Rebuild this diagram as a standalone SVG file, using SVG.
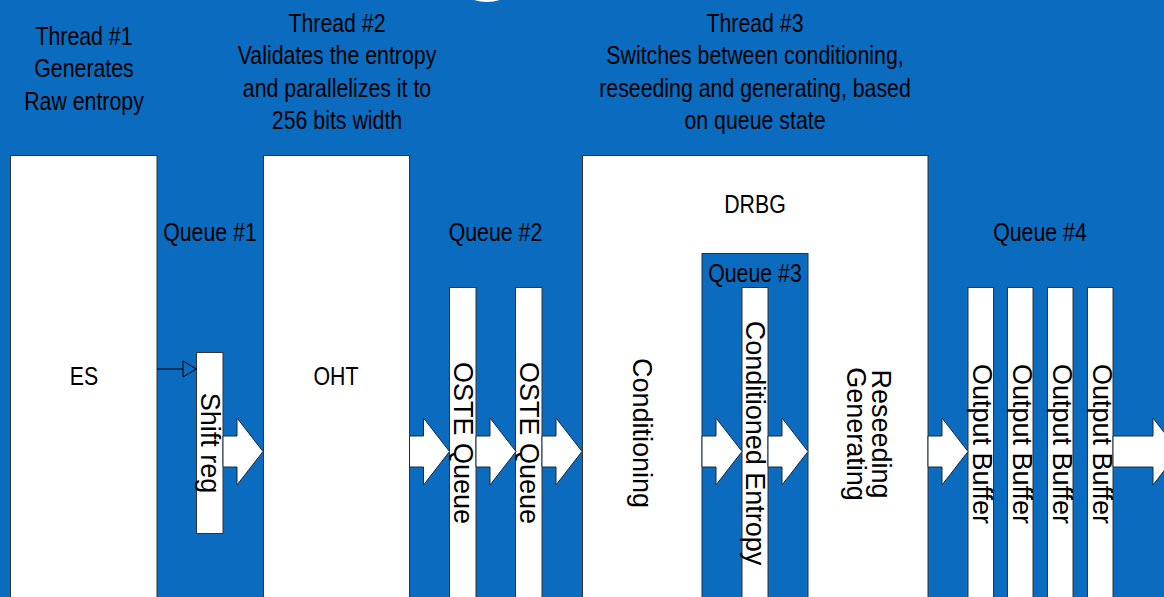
<svg xmlns="http://www.w3.org/2000/svg" width="1164" height="597" viewBox="0 0 1164 597">
<style>
.box{fill:#fff;stroke:#333;stroke-width:1}
.qbox{fill:#0a6bbf;stroke:#1d3550;stroke-width:1}
.blk{fill:#fff;stroke:#1a2a3a;stroke-width:1}
.t{font-family:"Liberation Sans",Arial,sans-serif;font-size:26px;fill:#000;text-anchor:middle}
.r{font-family:"Liberation Sans",Arial,sans-serif;font-size:27px;fill:#000;text-anchor:middle}
</style>
<defs>
<path id="blkarrow" d="M0,436 H14 V418 L40,451.5 L14,485 V467 H0 Z"/>
</defs>
<rect x="0" y="0" width="1164" height="597" fill="#0a6bbf"/>
<path d="M474,0 Q487,4 500,0 Z" fill="#fff"/>

<g id="headers">
<text class="t" transform="translate(84,45) scale(0.82,1)"><tspan x="0">Thread #1</tspan><tspan x="0" dy="32.5">Generates</tspan><tspan x="0" dy="32.5">Raw entropy</tspan></text>
<text class="t" transform="translate(337,31.7) scale(0.82,1)"><tspan x="0">Thread #2</tspan><tspan x="0" dy="32.5">Validates the entropy</tspan><tspan x="0" dy="32.5">and parallelizes it to</tspan><tspan x="0" dy="32.5">256 bits width</tspan></text>
<text class="t" transform="translate(755,31.7) scale(0.82,1)"><tspan x="0">Thread #3</tspan><tspan x="0" dy="32.5">Switches between conditioning,</tspan><tspan x="0" dy="32.5">reseeding and generating, based</tspan><tspan x="0" dy="32.5">on queue state</tspan></text>
</g>

<g id="es">
<rect class="box" x="10.5" y="155.5" width="146.5" height="450"/>
<text class="t" transform="translate(84,385) scale(0.82,1)">ES</text>
</g>
<g id="queue1">
<text class="t" transform="translate(210,241) scale(0.82,1)">Queue #1</text>
</g>
<g id="shiftreg">
<rect class="box" x="196.5" y="352.5" width="26.5" height="181"/>
<text class="r" transform="translate(201,443) rotate(90)">Shift reg</text>
</g>
<g id="oht">
<rect class="box" x="263.5" y="155.5" width="146" height="450"/>
<text class="t" transform="translate(336,385) scale(0.82,1)">OHT</text>
</g>
<g id="queue2">
<text class="t" transform="translate(495.5,241) scale(0.82,1)">Queue #2</text>
</g>
<g id="oste1">
<rect class="box" x="449.5" y="287.5" width="26.5" height="320"/>
<text class="r" transform="translate(453.5,443) rotate(90)">OSTE Queue</text>
</g>
<g id="oste2">
<rect class="box" x="515.5" y="287.5" width="26.5" height="320"/>
<text class="r" transform="translate(520,443) rotate(90)">OSTE Queue</text>
</g>
<g id="drbg">
<rect class="box" x="582.5" y="155.5" width="345.5" height="450"/>
<text class="t" transform="translate(755,212.5) scale(0.82,1)">DRBG</text>
<text class="r" transform="translate(633,433) rotate(90)">Conditioning</text>
<text class="r" transform="translate(871.5,434) rotate(90)"><tspan x="0">Reseeding</tspan><tspan x="0" dy="24.5">Generating</tspan></text>
</g>
<g id="queue3">
<rect class="qbox" x="702" y="253.5" width="106" height="360"/>
<text class="t" transform="translate(755,281.5) scale(0.82,1)">Queue #3</text>
</g>
<g id="condentropy">
<rect class="box" x="742" y="287.5" width="26" height="320"/>
<text class="r" transform="translate(746,443) rotate(90)">Conditioned Entropy</text>
</g>
<g id="queue4">
<text class="t" transform="translate(1040,241) scale(0.82,1)">Queue #4</text>
</g>
<g id="out1">
<rect class="box" x="968" y="287.5" width="25.5" height="320"/>
<text class="r" transform="translate(973,444) rotate(90)">Output Buffer</text>
</g>
<g id="out2">
<rect class="box" x="1007.5" y="287.5" width="25.5" height="320"/>
<text class="r" transform="translate(1013,444) rotate(90)">Output Buffer</text>
</g>
<g id="out3">
<rect class="box" x="1047.5" y="287.5" width="25.5" height="320"/>
<text class="r" transform="translate(1053,444) rotate(90)">Output Buffer</text>
</g>
<g id="out4">
<rect class="box" x="1087.5" y="287.5" width="25.5" height="320"/>
<text class="r" transform="translate(1093,444) rotate(90)">Output Buffer</text>
</g>

<g id="connectors">
<line x1="157" y1="369" x2="183" y2="369" stroke="#000" stroke-width="1"/>
<path d="M183,361 L196.5,369 L183,377 Z" fill="none" stroke="#000" stroke-width="1"/>
<use href="#blkarrow" class="blk" x="223"/>
<use href="#blkarrow" class="blk" x="409.5"/>
<use href="#blkarrow" class="blk" x="476"/>
<use href="#blkarrow" class="blk" x="542"/>
<use href="#blkarrow" class="blk" x="702"/>
<use href="#blkarrow" class="blk" x="768"/>
<use href="#blkarrow" class="blk" x="928"/>
<path class="blk" d="M1113,436 H1153 V418 L1179,451.5 L1153,485 V467 H1113 Z"/>
</g>
</svg>
